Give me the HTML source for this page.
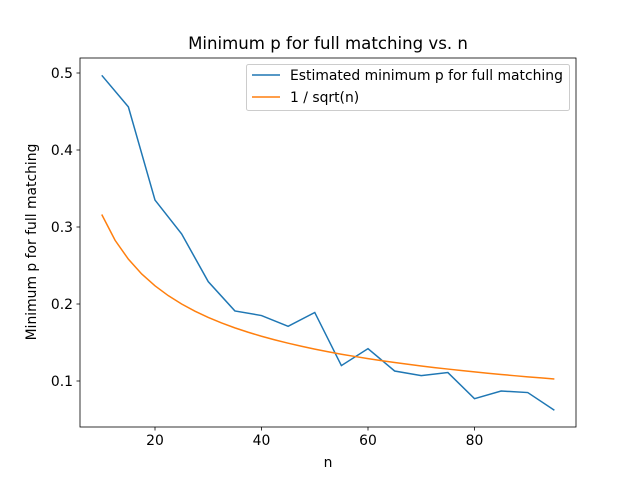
<!DOCTYPE html>
<html><head><meta charset="utf-8"><style>
body{margin:0;background:#fff}
svg{font-family:"DejaVu Sans","Liberation Sans",sans-serif}
</style></head><body>
<svg id="c" width="640" height="480" xmlns="http://www.w3.org/2000/svg"></svg>
<script>
const nVals=[10,15,20,25,30,35,40,45,50,55,60,65,70,75,80,85,90,95];
const estP=[0.497,0.456,0.335,0.291,0.229,0.191,0.185,0.171,0.189,0.120,0.142,0.113,0.107,0.111,0.077,0.087,0.085,0.062];
const sqrtN=[10,12.5,15,17.5,20,22.5,25,27.5,30,32.5,35,37.5,40,42.5,45,47.5,50,52.5,55,57.5,60,62.5,65,67.5,70,72.5,75,77.5,80,82.5,85,87.5,90,92.5,95];
const sqrtVals=[.3162,.2828,.2582,.2390,.2236,.2108,.2,.1907,.1826,.1754,.1690,.1633,.1581,.1534,.1491,.1451,.1414,.1380,.1348,.1319,.1291,.1265,.1240,.1217,.1195,.1174,.1155,.1136,.1118,.1101,.1085,.1069,.1054,.1040,.1026];
const xTicks=[20,40,60,80];
const yTicks=[0.1,0.2,0.3,0.4,0.5];
const NS="http://www.w3.org/2000/svg";
const svg=document.getElementById('c');
const X=v=>101.75+(v-10)*5.325;
const Y=v=>73+(0.5-v)*770;
function mk(t,a,txt){const e=document.createElementNS(NS,t);for(const k in a)e.setAttribute(k,a[k]);if(txt!=null)e.textContent=txt;svg.appendChild(e);return e;}
let e;
e=mk('rect',{x:80,y:58,width:496,height:369,fill:'none',stroke:'#000','stroke-width':0.8});

xTicks.forEach(t=>{mk('line',{x1:X(t),x2:X(t),y1:427,y2:430.5,stroke:'#000','stroke-width':0.8});
 e=mk('text',{x:X(t),y:445,'font-size':13.9,'text-anchor':'middle'},t);
 });
yTicks.forEach(t=>{mk('line',{x1:76.5,x2:80,y1:Y(t),y2:Y(t),stroke:'#000','stroke-width':0.8});
 e=mk('text',{x:73,y:Y(t)+5,'font-size':13.9,'text-anchor':'end'},t.toFixed(1));
 });
e=mk('text',{x:328,y:467,'font-size':13.9,'text-anchor':'middle'},'n');

e=mk('text',{x:36,y:242,'font-size':13.9,'text-anchor':'middle',transform:'rotate(-90 36 242)'},'Minimum p for full matching');

e=mk('text',{x:328,y:49,'font-size':16.6,'text-anchor':'middle'},'Minimum p for full matching vs. n');

e=mk('polyline',{points:nVals.map((n,i)=>X(n)+','+Y(estP[i])).join(' '),fill:'none',stroke:'#1f77b4','stroke-width':1.5});

e=mk('polyline',{points:sqrtN.map((n,i)=>X(n)+','+Y(sqrtVals[i])).join(' '),fill:'none',stroke:'#ff7f0e','stroke-width':1.5});

e=mk('rect',{x:246.5,y:64.5,width:323,height:46,rx:2,fill:'#fff',stroke:'#ccc','stroke-width':1});

mk('line',{x1:252,x2:280,y1:75,y2:75,stroke:'#1f77b4','stroke-width':1.5});
e=mk('text',{x:290,y:80,'font-size':13.9},'Estimated minimum p for full matching');

mk('line',{x1:252,x2:280,y1:97,y2:97,stroke:'#ff7f0e','stroke-width':1.5});
e=mk('text',{x:290,y:102,'font-size':13.9},'1 / sqrt(n)');

</script>
</body></html>
